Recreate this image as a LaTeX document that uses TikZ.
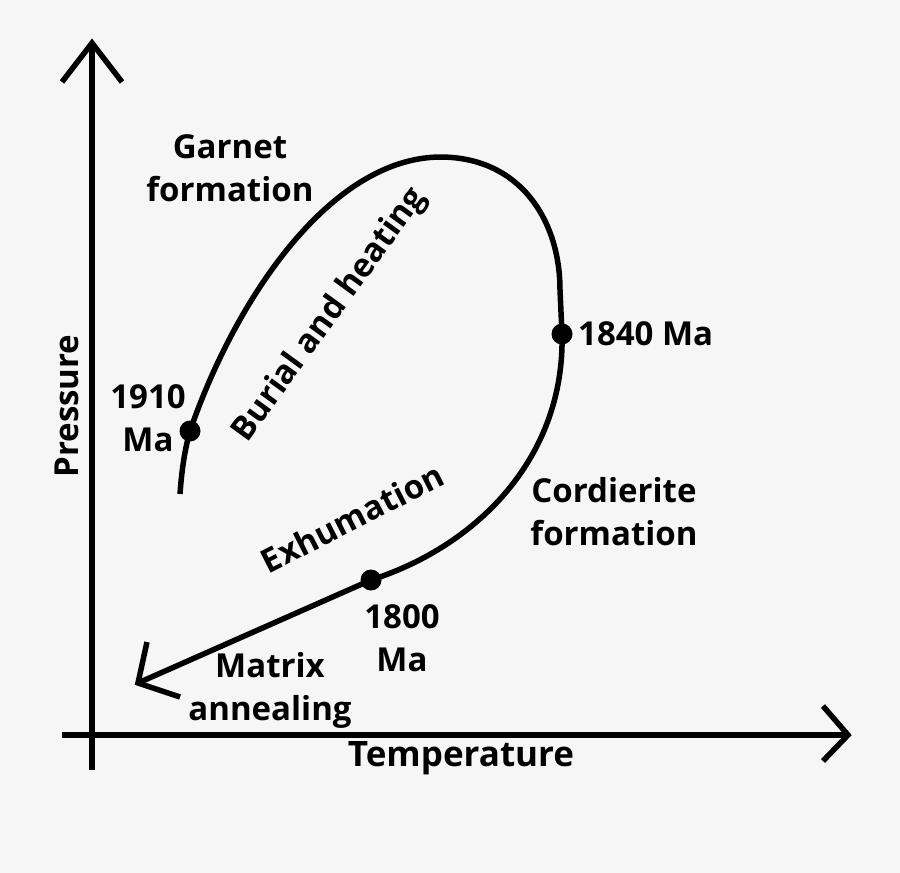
\documentclass[tikz,border=0pt]{standalone}
\usepackage{fontspec}
\setmainfont{Open Sans}
\definecolor{bg}{HTML}{F6F6F6}
\begin{document}
\begin{tikzpicture}[x=1pt,y=-1pt,
  lbl/.style={font=\bfseries\fontsize{33}{43}\selectfont, inner sep=0pt, align=center, text=black},
  thick line/.style={line width=5.5pt, line join=miter, line cap=butt},
  dotmark/.style={circle, fill=black, minimum size=21pt, inner sep=0pt}]
\fill[bg] (0,0) rectangle (900,873);
\useasboundingbox (0,0) rectangle (900,873);
% axes
\coordinate (ybot) at (92,770);
\coordinate (ytip) at (92,43);
\coordinate (xleft) at (62,735);
\coordinate (xtip) at (848,735);
\draw[thick line] (ybot) -- (ytip);
\draw[thick line] (62,82) -- (ytip) -- (122,82);
\draw[thick line] (xleft) -- (xtip);
\draw[thick line] (823,706) -- (xtip) -- (823,761);
% dots
\node[dotmark] (d1910) at (190,431) {};
\node[dotmark] (d1840) at (562,334) {};
\node[dotmark] (d1800) at (371,580) {};
\coordinate (start) at (180,494);
\coordinate (top) at (440,157);
\coordinate (tip) at (138,683);
% path
\draw[thick line] (start) .. controls (182,465) and (186,445) .. (d1910.center)
  .. controls (235,300) and (330,158) .. (top)
  .. controls (520,157) and (560,220) .. (560,290)
  -- (d1840.center)
  .. controls (565,455) and (480,545) .. (d1800.center)
  -- (tip);
\draw[thick line] (147,642) -- (tip) -- (180,697);
% labels
\node[lbl] (garnet) at (230,168) {Garnet\\formation};
\node[lbl, rotate=54] (burial) at (330,315) {Burial and heating};
\node[lbl] (l1910) at (148,418) {1910\\Ma};
\node[lbl, anchor=west] (l1840) at (578,334) {1840 Ma};
\node[lbl, rotate=27] (exhum) at (352,518) {Exhumation};
\node[lbl] (cord) at (614,512) {Cordierite\\formation};
\node[lbl] (l1800) at (402,638) {1800\\Ma};
\node[lbl] (matrix) at (270,690) {Matrix\\annealing};
\node[lbl, font=\bfseries\fontsize{35}{43}\selectfont] (temp) at (461,758) {Temperature};
\node[lbl, rotate=90] (press) at (67,406) {Pressure};
\end{tikzpicture}
\end{document}
